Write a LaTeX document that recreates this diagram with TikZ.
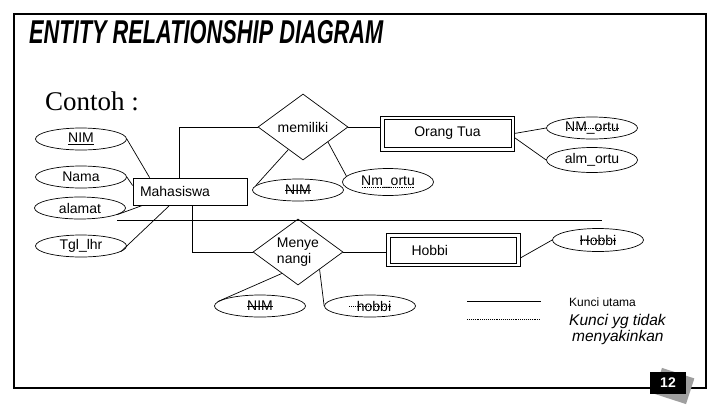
\documentclass[tikz,border=0pt]{standalone}
\usepackage{fontspec}
\usepackage{graphicx}
\setmainfont{Liberation Sans}
\newfontfamily\contohfont{Liberation Serif}
\usetikzlibrary{shapes.geometric}

\newcommand\solidout[1]{\setbox0\hbox{#1}\rlap{\rule[0.62ex]{\wd0}{0.6pt}}\box0}
\newcommand\dotout[2][0.6ex]{\setbox0\hbox{#2}\rlap{\raisebox{#1}{\hbox to\wd0{\xleaders\hbox to 1.8pt{\hss\rule{0.8pt}{0.6pt}\hss}\hfill}}}\box0}

\begin{document}
\begin{tikzpicture}[x=1pt, y=-1pt,
  lbl/.style={font=\fontsize{14}{16}\selectfont},
  attr/.style={draw, ellipse, line width=0.7pt, minimum width=91pt, minimum height=22pt, inner sep=0pt, lbl},
  entbox/.style={draw, rectangle, line width=0.7pt, lbl},
  weak/.style={draw, rectangle, line width=0.7pt, lbl},
  rel/.style={draw, diamond, aspect=1.36, line width=0.7pt, minimum width=90pt, minimum height=66pt, inner sep=0pt, lbl},
  link/.style={line width=0.7pt},
]
\useasboundingbox (0,0) rectangle (720,405);

\draw[line width=2.6pt] (14,14) rectangle (706,388);

\node[anchor=base west, inner sep=0pt, font=\bfseries\itshape\fontsize{33}{34}\selectfont] (title) at (29,43) {\scalebox{0.66}[1]{ENTITY RELATIONSHIP DIAGRAM}};
\node[anchor=base west, inner sep=0pt, font=\contohfont\fontsize{27}{30}\selectfont] (contoh) at (45,110) {Contoh :};

\node[attr] (nim)    at (81,139) {\underline{NIM}};
\node[attr] (nama)   at (81,177) {Nama};
\node[attr] (alamat) at (80,208) {alamat};
\node[attr] (tgl)    at (81,246) {Tgl\_lhr};
\node[entbox, minimum width=114pt, minimum height=27pt, text width=100pt, inner xsep=7pt, align=left] (mhs) at (190,191.5) {Mahasiswa};

\node[rel] (milik) at (303,127) {memiliki};
\node[rel, align=left] (senang) at (298,252) {Menye\\nangi};
\node[weak, minimum width=127pt, minimum height=28pt] (ortu) at (447.5,133.5) {Orang Tua};
\draw[link] ([shift={(-3pt,3pt)}]ortu.north west) rectangle ([shift={(3pt,-3pt)}]ortu.south east);
\node[weak, minimum width=126pt, minimum height=26pt, text width=84pt, inner xsep=21pt, align=left] (hobbi) at (453.5,250) {Hobbi};
\draw[link] ([shift={(-3.5pt,3pt)}]hobbi.north west) rectangle ([shift={(3.5pt,-3pt)}]hobbi.south east);

\node[attr] (nimb) at (298,190) {\solidout{NIM}};
\node[attr, minimum height=27pt] (nmortu) at (388,182) {\dotout[-2.5pt]{Nm\_ortu}};
\node[attr] (nmortua) at (592,128) {\dotout[0.45ex]{NM\_ortu}};
\node[attr, minimum height=25pt] (almortu) at (592,160) {alm\_ortu};
\node[attr, minimum height=23pt] (hobbiat) at (598,240) {\dotout{Hobbi}};
\node[attr] (nimc) at (260,306) {\solidout{NIM}};
\node[attr] (hobbib) at (370,306) {\dotout{\hspace{8pt}hobbi}};

\coordinate (hlA) at (117,220);
\coordinate (hlB) at (602,220);

\draw[link] (nim.east) -- ([xshift=17pt]mhs.north west);
\draw[link] (nama.east) -- ([yshift=6pt]mhs.west);
\draw[link] (alamat.-10) -- ([xshift=10pt]mhs.south west);
\draw[link] (tgl.-8) -- ([xshift=37pt]mhs.south west);
\draw[link] (hlA) -- (hlB);
\draw[link] ([xshift=47pt]mhs.north west) |- (milik.west);
\draw[link] ([xshift=60pt]mhs.south west) |- (senang.west);
\draw[link] (milik.east) -- ([xshift=-3pt]milik.east -| ortu.west);
\draw[link] ([xshift=3pt]ortu.east) -- (nmortua.west);
\draw[link] ([shift={(3pt,-4pt)}]ortu.east) -- (almortu.west);
\draw[link] (milik.-123) -- (nimb.174);
\draw[link] (milik.-31) -- (nmortu.172);
\draw[link] (senang.east) -- ([xshift=-3.5pt]senang.east -| hobbi.west);
\draw[link] ([shift={(3.5pt,-8pt)}]hobbi.east) -- (hobbiat.west);
\draw[link] (senang.-127) -- (nimc.174);
\draw[link] (senang.-39) -- (hobbib.west);

\coordinate (kuA) at (467,301);
\coordinate (kuB) at (541,301);
\coordinate (kyA) at (467,319);
\coordinate (kyB) at (541,319);
\draw[link] (kuA) -- (kuB);
\draw[link, dash pattern=on 0.7pt off 1.2pt] (kyA) -- (kyB);
\node[anchor=base west, inner sep=0pt, font=\fontsize{12}{14}\selectfont] (kunci) at (569,306) {Kunci utama};
\node[anchor=base west, inner sep=0pt, font=\itshape\fontsize{15.5}{16}\selectfont] (kuncib) at (569,325) {Kunci yg tidak};
\node[anchor=base west, inner sep=0pt, font=\itshape\fontsize{15.5}{16}\selectfont] (kuncic) at (572,341) {menyakinkan};

\node[fill=gray!75, rotate=-18, minimum width=34pt, minimum height=27pt, inner sep=0pt] (pgshade) at (674,386) {};
\node[fill=black, text=white, font=\bfseries\fontsize{14}{16}\selectfont, minimum width=36pt, minimum height=22pt, inner sep=0pt] (pgnum) at (668,383) {12};

\end{tikzpicture}
\end{document}
